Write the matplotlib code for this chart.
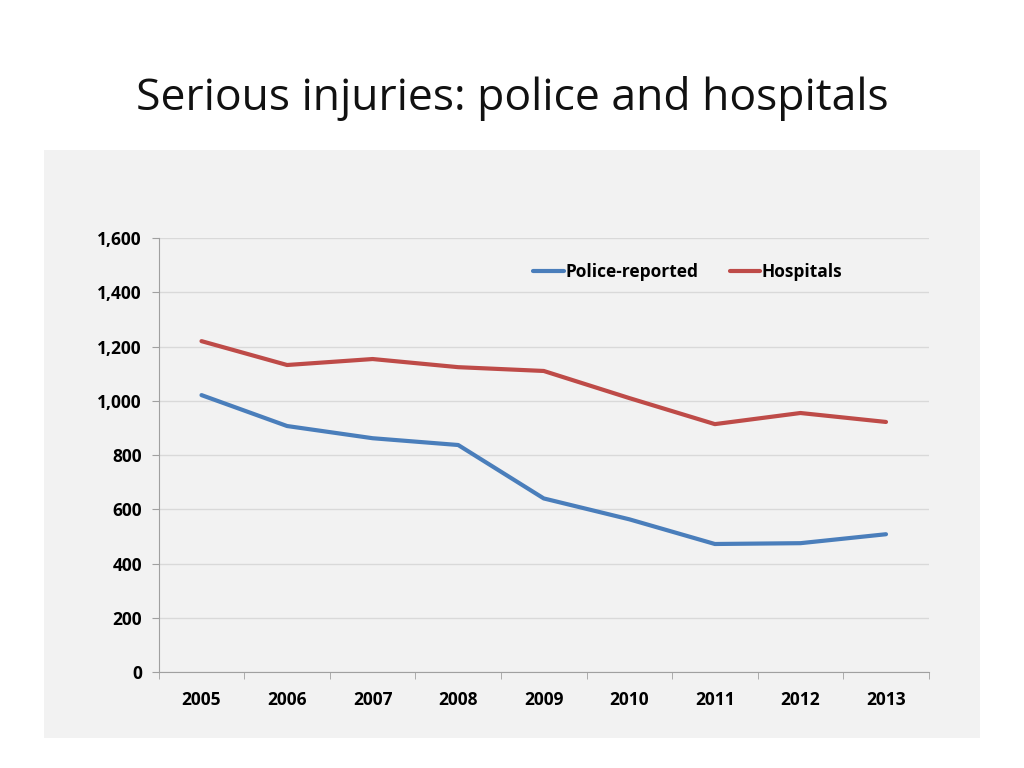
import matplotlib
matplotlib.use('Agg')
import matplotlib.pyplot as plt
from matplotlib.patches import Rectangle
from matplotlib.ticker import FuncFormatter

years = ['2005', '2006', '2007', '2008', '2009', '2010', '2011', '2012', '2013']
police = [1021, 907, 862, 837, 640, 563, 472, 475, 508]
hospitals = [1220, 1132, 1154, 1124, 1110, 1010, 914, 955, 922]

plt.rcParams['font.family'] = ['Open Sans', 'DejaVu Sans']

fig = plt.figure(figsize=(10.24, 7.68), dpi=100)
fig.patch.set_facecolor('white')

# grey chart area behind the plot
fig.patches.append(Rectangle((0.043, 0.039), 0.914, 0.766, transform=fig.transFigure,
                             facecolor='#f2f2f2', edgecolor='none', zorder=-5))

fig.text(0.5, 0.872, 'Serious injuries: police and hospitals', ha='center', va='center',
         fontsize=32, color='#111111')

ax = fig.add_axes([0.155, 0.125, 0.752, 0.565])
ax.set_facecolor('none')

x = range(len(years))
ax.plot(x, police, color='#4a7ebb', lw=3, label='Police-reported', solid_capstyle='round')
ax.plot(x, hospitals, color='#be4b48', lw=3, label='Hospitals', solid_capstyle='round')

ax.set_xlim(-0.5, len(years) - 0.5)
ax.set_ylim(0, 1600)
ax.set_yticks(range(0, 1601, 200))
ax.yaxis.set_major_formatter(FuncFormatter(lambda v, p: f'{int(v):,}'))
ax.set_xticks(list(x))
ax.set_xticklabels(years)
ax.set_xticks([i - 0.5 for i in range(len(years) + 1)], minor=True)
ax.tick_params(axis='x', which='major', length=0, pad=14)
ax.tick_params(axis='x', which='minor', length=5, color='#a0a0a0')
ax.tick_params(axis='y', length=5, color='#a0a0a0', pad=7)
for lab in ax.get_xticklabels() + ax.get_yticklabels():
    lab.set_fontweight('bold')
    lab.set_fontsize(12.5)

ax.grid(axis='y', color='#d9d9d9', lw=1)
ax.set_axisbelow(True)
for s in ['top', 'right']:
    ax.spines[s].set_visible(False)
ax.spines['left'].set_color('#a0a0a0')
ax.spines['bottom'].set_color('#a0a0a0')

leg = ax.legend(loc='center', bbox_to_anchor=(0.687, 0.922), ncol=2, frameon=False,
                handlelength=1.75, handletextpad=0.1, columnspacing=1.8,
                borderpad=0, prop={'weight': 'bold', 'size': 12.5})

fig.savefig('out.png', dpi=100)
